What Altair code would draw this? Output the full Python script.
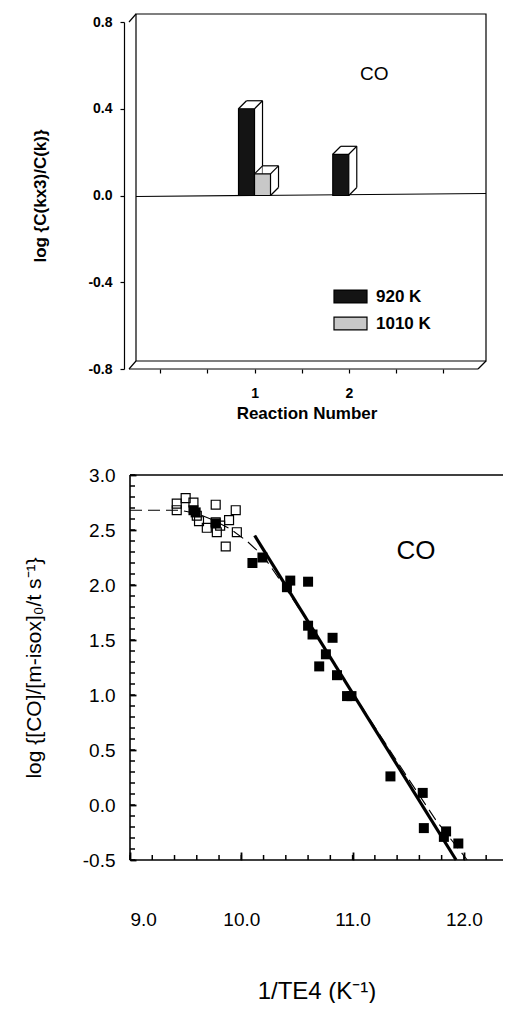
import altair as alt
import pandas as pd

# ---------------- top panel data ----------------
reaction = [1, 1, 2]
temperature = ["920 K", "1010 K", "920 K"]
log_ratio = [0.40, 0.10, 0.19]
temp_order = ["920 K", "1010 K"]

top_y_ticks = [-0.8, -0.4, 0.0, 0.4, 0.8]
top_x_ticks = [0, 0.5, 1, 1.5, 2, 2.5, 3]
top_x_labels = [1, 2]
top_note = ["CO"]
top_note_x = [2.27]
top_note_y = [0.56]

# ---------------- bottom panel data ----------------
open_x = [9.42, 9.42, 9.50, 9.57, 9.60, 9.62, 9.69, 9.77, 9.77, 9.78, 9.81, 9.86, 9.89, 9.95, 9.96]
open_y = [2.74, 2.68, 2.79, 2.75, 2.63, 2.58, 2.52, 2.73, 2.57, 2.48, 2.54, 2.35, 2.59, 2.68, 2.48]
filled_x = [9.57, 9.59, 9.77, 10.10, 10.19, 10.41, 10.44, 10.60, 10.60, 10.64, 10.70, 10.76,
            10.82, 10.86, 10.95, 10.99, 11.34, 11.63, 11.64, 11.82, 11.84, 11.95]
filled_y = [2.68, 2.66, 2.56, 2.20, 2.25, 1.98, 2.04, 2.03, 1.63, 1.55, 1.26, 1.37,
            1.52, 1.18, 0.99, 0.99, 0.26, 0.11, -0.21, -0.29, -0.24, -0.35]
solid_x = [10.12, 11.93]
solid_y = [2.45, -0.50]
dashed_x = [9.00, 9.30, 9.45, 9.60, 9.75, 9.90, 10.05, 10.20, 10.40, 10.60, 10.80, 11.00,
            11.25, 11.50, 11.75, 12.03]
dashed_y = [2.68, 2.68, 2.68, 2.65, 2.59, 2.51, 2.40, 2.26, 1.97, 1.66, 1.34, 1.02,
            0.63, 0.24, -0.14, -0.50]
bot_y_ticks = [-0.5, 0.0, 0.5, 1.0, 1.5, 2.0, 2.5, 3.0]
bot_y_minor = [round(-0.5 + 0.1 * i, 1) for i in range(36)]
bot_x_ticks = [9.0, 10.0, 11.0, 12.0]
bot_x_minor = [round(9.0 + 0.2 * i, 1) for i in range(17)]
bot_note = ["CO"]
bot_note_x = [11.57]
bot_note_y = [2.31]

FONT = "Liberation Sans"
HYPHEN = "replace(datum.label, '\u2212', '-')"

# ================= top panel =================
W1, H1 = 353, 347
X1MIN, X1MAX = -0.268, 3.371
xs1 = alt.Scale(domain=[X1MIN, X1MAX], nice=False, zero=False)
ys1 = alt.Scale(domain=[-0.8, 0.8], nice=False, zero=False)

df_bars = pd.DataFrame({"reaction": reaction, "temperature": temperature, "log_ratio": log_ratio})
one = pd.DataFrame({"k": [0]})

label_test = " || ".join(f"datum.value == {v}" for v in top_x_labels)
x1_axis = alt.Axis(values=top_x_ticks, labelExpr=f"({label_test}) ? format(datum.value, 'd') : ''",
                   domain=False, tickSize=4, tickWidth=1.2, tickColor="black",
                   labelFontSize=14, labelFontWeight="bold", labelColor="black", labelPadding=13,
                   title="Reaction Number", titleFontSize=17, titleFontWeight="bold",
                   titleColor="black", titlePadding=5, grid=False)
y1_axis = alt.Axis(values=top_y_ticks, format=".1f", labelExpr=HYPHEN, offset=6, domain=True,
                   domainColor="black", domainWidth=1.2, tickSize=4, tickWidth=1.2, tickColor="black",
                   labelFontSize=14, labelFontWeight="bold", labelColor="black", labelPadding=8,
                   title="log {C(kx3)/C(k)}", titleFontSize=17, titleFontWeight="bold",
                   titleColor="black", titlePadding=38, grid=False)

def XD(v):
    return alt.XDatum(v, scale=xs1, axis=None)

def YD(v):
    return alt.YDatum(v, scale=ys1, axis=None)

frame = [
    alt.Chart(one).mark_rect(fillOpacity=0, stroke="black", strokeWidth=1.2,
                             xOffset=1, x2Offset=8, yOffset=-8, y2Offset=-8)
    .encode(x=XD(X1MIN), x2=alt.X2Datum(X1MAX), y=YD(0.8), y2=alt.Y2Datum(-0.8)),
    alt.Chart(one).mark_rule(stroke="black", strokeWidth=1.2, xOffset=1, x2Offset=8, yOffset=1, y2Offset=-2)
    .encode(x=XD(X1MIN), x2=alt.X2Datum(X1MAX), y=YD(0.0), y2=alt.Y2Datum(0.0)),
    alt.Chart(one).mark_rule(stroke="black", strokeWidth=1.2, xOffset=-6)
    .encode(x=XD(X1MIN), x2=alt.X2Datum(X1MAX), y=YD(-0.8), y2=alt.Y2Datum(-0.8)),
    alt.Chart(one).mark_rule(stroke="black", strokeWidth=1.2, xOffset=-6, x2Offset=1, y2Offset=-8)
    .encode(x=XD(X1MIN), x2=alt.X2Datum(X1MIN), y=YD(0.8), y2=alt.Y2Datum(0.8)),
    alt.Chart(one).mark_rule(stroke="black", strokeWidth=1.2, xOffset=-6, x2Offset=1, y2Offset=-8)
    .encode(x=XD(X1MIN), x2=alt.X2Datum(X1MIN), y=YD(-0.8), y2=alt.Y2Datum(-0.8)),
    alt.Chart(one).mark_rule(stroke="black", strokeWidth=1.2, x2Offset=8, y2Offset=-8)
    .encode(x=XD(X1MAX), x2=alt.X2Datum(X1MAX), y=YD(-0.8), y2=alt.Y2Datum(-0.8)),
]

color_scale = alt.Scale(domain=temp_order, range=["#141414", "#c8c8c8"])
legend = alt.Legend(orient="none", legendX=203, legendY=257, title=None,
                    symbolType="M-1,-0.39H1V0.39H-1Z", symbolSize=1089,
                    symbolStrokeColor="black", symbolStrokeWidth=1.2, symbolOpacity=1,
                    labelFontSize=17, labelFontWeight="bold", labelColor="black",
                    labelOffset=8, rowPadding=-5, padding=0)

def bar_layers(temp, off, with_axes, with_legend):
    base = alt.Chart(df_bars).transform_filter(alt.datum.temperature == temp)
    xq = alt.X("reaction:Q", scale=xs1, axis=None)
    yq = alt.Y("log_ratio:Q", scale=ys1, axis=None)
    rule = dict(stroke="black", strokeWidth=1.2)
    back = base.mark_bar(orient="vertical", width=16, xOffset=off + 8, yOffset=-8, y2Offset=-8,
                         fill="white", strokeWidth=0).encode(x=xq, y=yq, y2=alt.Y2Datum(0))
    top_edge = base.mark_rule(xOffset=off, x2Offset=off + 16, yOffset=-8, y2Offset=-8, **rule).encode(
        x=xq, x2=alt.X2("reaction:Q"), y=yq, y2=alt.Y2("log_ratio:Q"))
    right_edge = base.mark_rule(xOffset=off + 16, x2Offset=off + 16, yOffset=-8, y2Offset=-8, **rule).encode(
        x=xq, x2=alt.X2("reaction:Q"), y=yq, y2=alt.Y2Datum(0))
    d_tl = base.mark_rule(xOffset=off - 8, x2Offset=off, y2Offset=-8, **rule).encode(
        x=xq, x2=alt.X2("reaction:Q"), y=yq, y2=alt.Y2("log_ratio:Q"))
    d_tr = base.mark_rule(xOffset=off + 8, x2Offset=off + 16, y2Offset=-8, **rule).encode(
        x=xq, x2=alt.X2("reaction:Q"), y=yq, y2=alt.Y2("log_ratio:Q"))
    d_br = base.mark_rule(xOffset=off + 8, x2Offset=off + 16, y2Offset=-8, **rule).encode(
        x=xq, x2=alt.X2("reaction:Q"), y=YD(0.0), y2=alt.Y2Datum(0))
    front = base.mark_bar(orient="vertical", width=16, xOffset=off, stroke="black", strokeWidth=1.2,
                          opacity=1).encode(
        x=alt.X("reaction:Q", scale=xs1, axis=x1_axis if with_axes else None),
        y=alt.Y("log_ratio:Q", scale=ys1, axis=y1_axis if with_axes else None),
        y2=alt.Y2Datum(0),
        color=alt.Color("temperature:N", scale=color_scale, legend=legend if with_legend else None),
    )
    return [back, top_edge, right_edge, d_tl, d_tr, d_br, front]

df_tnote = pd.DataFrame({"t": top_note, "x": top_note_x, "y": top_note_y})
top_text = alt.Chart(df_tnote).mark_text(fontSize=19, font=FONT, color="black").encode(
    x=alt.X("x:Q", scale=xs1, axis=None), y=alt.Y("y:Q", scale=ys1, axis=None), text="t:N")

top_chart = alt.layer(
    *frame,
    *bar_layers("920 K", -8, True, True),
    *bar_layers("1010 K", 8, False, False),
    top_text,
).resolve_axis(x="independent", y="independent").properties(width=W1, height=H1)

# ================= bottom panel =================
W2, H2 = 373, 385
X2MIN, X2MAX = 9.0, 9.0 + 373 / 111.3
xs2 = alt.Scale(domain=[X2MIN, X2MAX], nice=False, zero=False)
ys2 = alt.Scale(domain=[-0.5, 3.0], nice=False, zero=False)

df_open = pd.DataFrame({"x": open_x, "y": open_y})
df_filled = pd.DataFrame({"x": filled_x, "y": filled_y})
df_solid = pd.DataFrame({"x": solid_x, "y": solid_y})
df_dash = pd.DataFrame({"x": dashed_x, "y": dashed_y})
df_bnote = pd.DataFrame({"t": bot_note, "x": bot_note_x, "y": bot_note_y})

# main axes pulled inside by their tick length, so the ticks point into the plot
x2_main = alt.Axis(orient="bottom", offset=-8, values=bot_x_ticks, format=".1f", ticks=True,
                   tickSize=8, tickWidth=1.8, tickColor="black", domain=False,
                   labelFontSize=19, labelColor="black", labelPadding=50,
                   title="1/TE4 (K⁻¹)", titleFontSize=24, titleFontWeight="normal",
                   titleColor="black", titlePadding=50, grid=False)
y2_main = alt.Axis(orient="left", offset=-6, values=bot_y_ticks, format=".1f", labelExpr=HYPHEN,
                   ticks=True, tickSize=6, tickWidth=1.8, tickColor="black", domain=False,
                   labelFontSize=19, labelColor="black", labelPadding=15,
                   title="log {[CO]/[m-isox]₀/t s⁻¹}", titleFontSize=21, titleFontWeight="normal",
                   titleColor="black", titlePadding=38, grid=False)

def XD2(v):
    return alt.XDatum(v, scale=xs2, axis=None)

def YD2(v):
    return alt.YDatum(v, scale=ys2, axis=None)

frame2 = [
    alt.Chart(one).mark_rule(stroke="black", strokeWidth=1.6).encode(
        x=XD2(X2MIN), x2=alt.X2Datum(X2MAX), y=YD2(3.0), y2=alt.Y2Datum(3.0)),
    alt.Chart(one).mark_rule(stroke="black", strokeWidth=1.6).encode(
        x=XD2(X2MIN), x2=alt.X2Datum(X2MAX), y=YD2(-0.5), y2=alt.Y2Datum(-0.5)),
    alt.Chart(one).mark_rule(stroke="black", strokeWidth=1.6).encode(
        x=XD2(X2MIN), x2=alt.X2Datum(X2MIN), y=YD2(-0.5), y2=alt.Y2Datum(3.0)),
]

# minor inward tick marks from the tick-position lists
df_xmin = pd.DataFrame({"v": bot_x_minor})
df_ymin = pd.DataFrame({"v": bot_y_minor})
minor_ticks = [
    alt.Chart(df_xmin).mark_tick(orient="vertical", size=5, thickness=1.5, color="black",
                                 opacity=1, yOffset=-2.5).encode(
        x=alt.X("v:Q", scale=xs2, axis=None), y=YD2(-0.5)),
    alt.Chart(df_ymin).mark_tick(orient="horizontal", size=5, thickness=1.5, color="black",
                                 opacity=1, xOffset=2.5).encode(
        y=alt.Y("v:Q", scale=ys2, axis=None), x=XD2(9.0)),
]

dashed = alt.Chart(df_dash).mark_line(color="black", strokeWidth=1.1, strokeDash=[12, 6]).encode(
    x=alt.X("x:Q", scale=xs2, axis=x2_main), y=alt.Y("y:Q", scale=ys2, axis=y2_main))
solid = alt.Chart(df_solid).mark_line(color="black", strokeWidth=3.2).encode(
    x=alt.X("x:Q", scale=xs2, axis=None), y=alt.Y("y:Q", scale=ys2, axis=None))
opens = alt.Chart(df_open).mark_point(shape="square", filled=False, size=80, color="black",
                                      strokeWidth=1.2, opacity=1).encode(
    x=alt.X("x:Q", scale=xs2, axis=None), y=alt.Y("y:Q", scale=ys2, axis=None))
fills = alt.Chart(df_filled).mark_square(size=100, color="black", opacity=1).encode(
    x=alt.X("x:Q", scale=xs2, axis=None), y=alt.Y("y:Q", scale=ys2, axis=None))
bot_text = alt.Chart(df_bnote).mark_text(fontSize=26, font=FONT, color="black").encode(
    x=alt.X("x:Q", scale=xs2, axis=None), y=alt.Y("y:Q", scale=ys2, axis=None), text="t:N")

bottom_chart = alt.layer(dashed, *frame2, *minor_ticks, solid, opens, fills, bot_text).resolve_axis(
    x="independent", y="independent").properties(width=W2, height=H2)

chart = alt.vconcat(top_chart, bottom_chart, spacing=45).properties(
    padding={"left": 15, "top": 5, "right": 0, "bottom": 0}
).configure(font=FONT).configure_view(stroke=None)

chart.save("out.html", embed_options={"renderer": "svg", "actions": False})
